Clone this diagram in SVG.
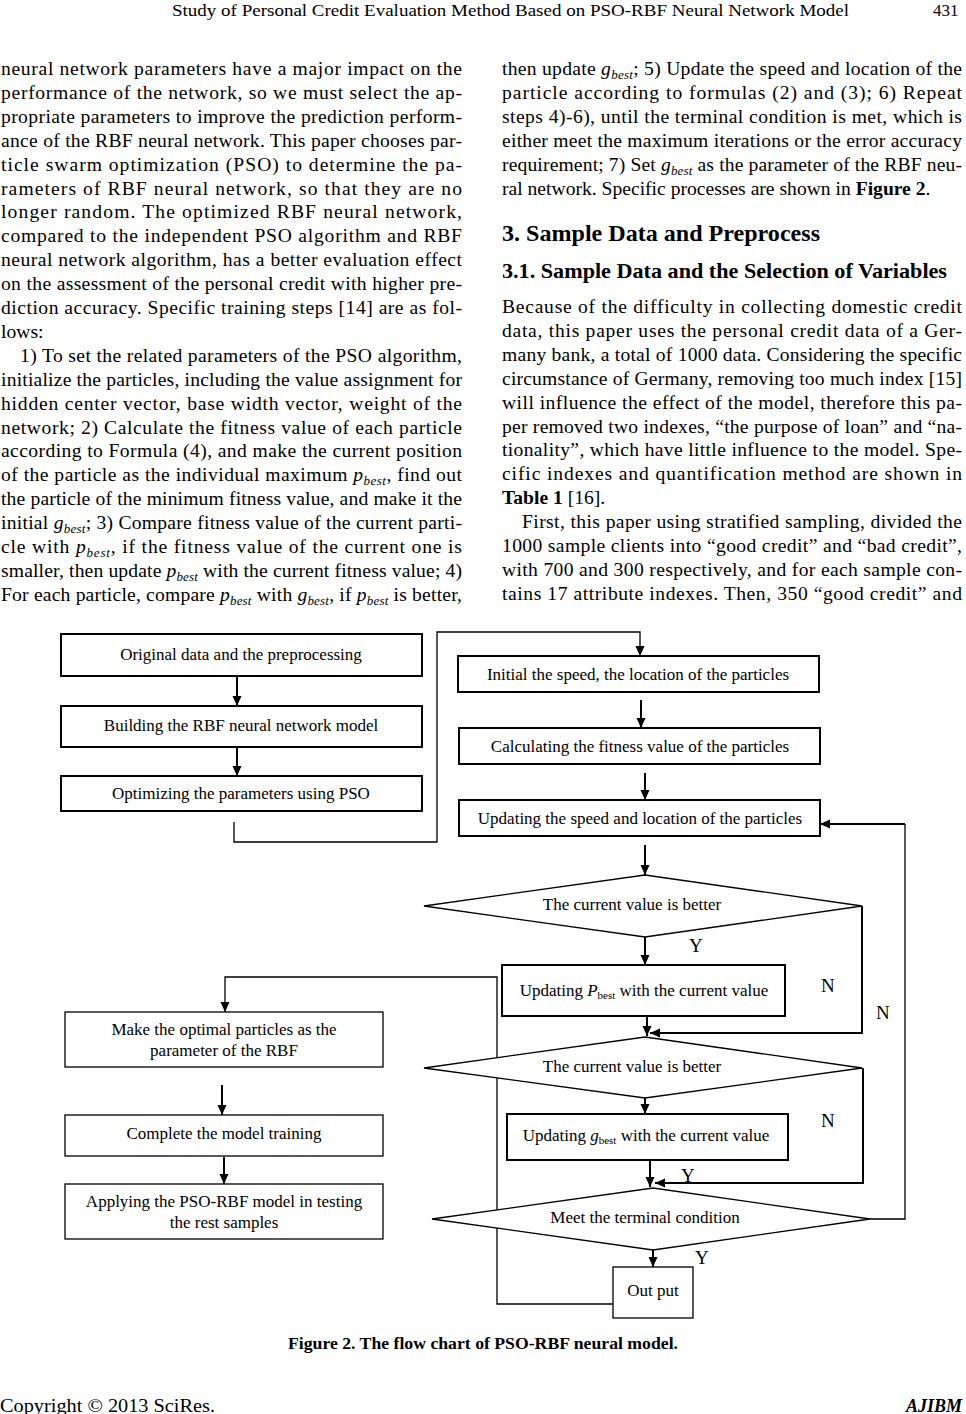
<svg xmlns="http://www.w3.org/2000/svg" width="966" height="1414" viewBox="0 0 966 1414">
<defs>
<style>
.t{font-family:"Liberation Serif","Times New Roman",serif;fill:#000}
.b{font-size:19.6px}
.hd{font-size:17px}
.f{font-size:17px;text-anchor:middle}
.lb{font-size:19px}
.i{font-style:italic}
.sub{font-style:italic;font-size:13px}
.fsub{font-size:11px}
.bold{font-weight:bold}
.box{fill:#fff;stroke:#000;stroke-width:2}
.box2{fill:#fff;stroke:#000;stroke-width:1.3}
.con{fill:none;stroke:#000;stroke-width:2}
.thin{fill:none;stroke:#000;stroke-width:1.3}
</style>
<marker id="ah" markerUnits="userSpaceOnUse" markerWidth="10" markerHeight="10" refX="10" refY="4.5" orient="auto">
<path d="M0,0 L10,4.5 L0,9 z" fill="#000"/>
</marker>
</defs>
<rect width="966" height="1414" fill="#fff"/>

<!-- page header -->
<g id="header" class="t">
<text class="hd" x="172" y="16" textLength="677" lengthAdjust="spacingAndGlyphs">Study of Personal Credit Evaluation Method Based on PSO-RBF Neural Network Model</text>
<text class="hd" x="933" y="16">431</text>
</g>

<!-- left column body text -->
<g id="left-column" class="t b">
<text x="1" y="75" textLength="461" lengthAdjust="spacing">neural network parameters have a major impact on the</text>
<text x="1" y="98.9" textLength="461" lengthAdjust="spacing">performance of the network, so we must select the ap-</text>
<text x="1" y="122.8" textLength="461" lengthAdjust="spacing">propriate parameters to improve the prediction perform-</text>
<text x="1" y="146.7" textLength="461" lengthAdjust="spacing">ance of the RBF neural network. This paper chooses par-</text>
<text x="1" y="170.6" textLength="461" lengthAdjust="spacing">ticle swarm optimization (PSO) to determine the pa-</text>
<text x="1" y="194.5" textLength="461" lengthAdjust="spacing">rameters of RBF neural network, so that they are no</text>
<text x="1" y="218.4" textLength="461" lengthAdjust="spacing">longer random. The optimized RBF neural network,</text>
<text x="1" y="242.3" textLength="461" lengthAdjust="spacing">compared to the independent PSO algorithm and RBF</text>
<text x="1" y="266.2" textLength="461" lengthAdjust="spacing">neural network algorithm, has a better evaluation effect</text>
<text x="1" y="290.1" textLength="461" lengthAdjust="spacing">on the assessment of the personal credit with higher pre-</text>
<text x="1" y="314" textLength="461" lengthAdjust="spacing">diction accuracy. Specific training steps [14] are as fol-</text>
<text x="1" y="337.9">lows:</text>
<text x="20" y="361.8" textLength="442" lengthAdjust="spacing">1) To set the related parameters of the PSO algorithm,</text>
<text x="1" y="385.7" textLength="461" lengthAdjust="spacing">initialize the particles, including the value assignment for</text>
<text x="1" y="409.6" textLength="461" lengthAdjust="spacing">hidden center vector, base width vector, weight of the</text>
<text x="1" y="433.5" textLength="461" lengthAdjust="spacing">network; 2) Calculate the fitness value of each particle</text>
<text x="1" y="457.4" textLength="461" lengthAdjust="spacing">according to Formula (4), and make the current position</text>
<text x="1" y="481.3" textLength="461" lengthAdjust="spacing">of the particle as the individual maximum <tspan class="i">p</tspan><tspan class="sub" dy="4">best</tspan><tspan dy="-4">, find out</tspan></text>
<text x="1" y="505.2" textLength="461" lengthAdjust="spacing">the particle of the minimum fitness value, and make it the</text>
<text x="1" y="529.1" textLength="461" lengthAdjust="spacing">initial <tspan class="i">g</tspan><tspan class="sub" dy="4">best</tspan><tspan dy="-4">; 3) Compare fitness value of the current parti-</tspan></text>
<text x="1" y="553" textLength="461" lengthAdjust="spacing">cle with <tspan class="i">p</tspan><tspan class="sub" dy="4">best</tspan><tspan dy="-4">, if the fitness value of the current one is</tspan></text>
<text x="1" y="576.9" textLength="461" lengthAdjust="spacing">smaller, then update <tspan class="i">p</tspan><tspan class="sub" dy="4">best</tspan><tspan dy="-4"> with the current fitness value; 4)</tspan></text>
<text x="1" y="600.8" textLength="461" lengthAdjust="spacing">For each particle, compare <tspan class="i">p</tspan><tspan class="sub" dy="4">best</tspan><tspan dy="-4"> with </tspan><tspan class="i">g</tspan><tspan class="sub" dy="4">best</tspan><tspan dy="-4">, if </tspan><tspan class="i">p</tspan><tspan class="sub" dy="4">best</tspan><tspan dy="-4"> is better,</tspan></text>
</g>

<!-- right column body text -->
<g id="right-column" class="t b">
<text x="502" y="75" textLength="460" lengthAdjust="spacing">then update <tspan class="i">g</tspan><tspan class="sub" dy="4">best</tspan><tspan dy="-4">; 5) Update the speed and location of the</tspan></text>
<text x="502" y="98.9" textLength="460" lengthAdjust="spacing">particle according to formulas (2) and (3); 6) Repeat</text>
<text x="502" y="122.8" textLength="460" lengthAdjust="spacing">steps 4)-6), until the terminal condition is met, which is</text>
<text x="502" y="146.7" textLength="460" lengthAdjust="spacing">either meet the maximum iterations or the error accuracy</text>
<text x="502" y="170.6" textLength="460" lengthAdjust="spacing">requirement; 7) Set <tspan class="i">g</tspan><tspan class="sub" dy="4">best</tspan><tspan dy="-4"> as the parameter of the RBF neu-</tspan></text>
<text x="502" y="194.5">ral network. Specific processes are shown in <tspan class="bold">Figure 2</tspan>.</text>
<text x="502" y="241" class="bold" style="font-size:24px" textLength="318" lengthAdjust="spacingAndGlyphs">3. Sample Data and Preprocess</text>
<text x="502" y="278" class="bold" style="font-size:22px" textLength="445" lengthAdjust="spacingAndGlyphs">3.1. Sample Data and the Selection of Variables</text>
<text x="502" y="313" textLength="460" lengthAdjust="spacing">Because of the difficulty in collecting domestic credit</text>
<text x="502" y="336.9" textLength="460" lengthAdjust="spacing">data, this paper uses the personal credit data of a Ger-</text>
<text x="502" y="360.8" textLength="460" lengthAdjust="spacing">many bank, a total of 1000 data. Considering the specific</text>
<text x="502" y="384.7" textLength="460" lengthAdjust="spacing">circumstance of Germany, removing too much index [15]</text>
<text x="502" y="408.6" textLength="460" lengthAdjust="spacing">will influence the effect of the model, therefore this pa-</text>
<text x="502" y="432.5" textLength="460" lengthAdjust="spacing">per removed two indexes, “the purpose of loan” and “na-</text>
<text x="502" y="456.4" textLength="460" lengthAdjust="spacing">tionality”, which have little influence to the model. Spe-</text>
<text x="502" y="480.3" textLength="460" lengthAdjust="spacing">cific indexes and quantification method are shown in</text>
<text x="502" y="504.2"><tspan class="bold">Table 1</tspan> [16].</text>
<text x="522" y="528.1" textLength="440" lengthAdjust="spacing">First, this paper using stratified sampling, divided the</text>
<text x="502" y="552" textLength="460" lengthAdjust="spacing">1000 sample clients into “good credit” and “bad credit”,</text>
<text x="502" y="575.9" textLength="460" lengthAdjust="spacing">with 700 and 300 respectively, and for each sample con-</text>
<text x="502" y="599.8" textLength="460" lengthAdjust="spacing">tains 17 attribute indexes. Then, 350 “good credit” and</text>
</g>

<!-- flowchart connectors -->
<g id="connectors">
<line class="con" x1="237" y1="676" x2="237" y2="706" marker-end="url(#ah)"/>
<line class="con" x1="237" y1="747" x2="237" y2="776" marker-end="url(#ah)"/>
<polyline class="thin" points="234,822 234,842 437,842 437,632 640,632 640,656" marker-end="url(#ah)"/>
<line class="con" x1="641" y1="700" x2="641" y2="728" marker-end="url(#ah)"/>
<line class="con" x1="645" y1="773" x2="645" y2="800" marker-end="url(#ah)"/>
<line class="con" x1="645" y1="845" x2="645" y2="875" marker-end="url(#ah)"/>
<line class="con" x1="645" y1="937" x2="645" y2="965" marker-end="url(#ah)"/>
<line class="con" x1="647" y1="1010" x2="647" y2="1036" marker-end="url(#ah)"/>
<polyline class="con" points="862,906 862,1033 650,1033" marker-end="url(#ah)"/>
<line class="con" x1="645" y1="1098" x2="645" y2="1114" marker-end="url(#ah)"/>
<line class="con" x1="650" y1="1158" x2="650" y2="1187" marker-end="url(#ah)"/>
<polyline class="con" points="863,1068 863,1183 655,1183" marker-end="url(#ah)"/>
<polyline class="thin" points="870,1219 905,1219 905,824" />
<line class="con" x1="905" y1="824" x2="820" y2="824" marker-end="url(#ah)"/>
<line class="con" x1="653" y1="1250" x2="653" y2="1267" marker-end="url(#ah)"/>
<polyline class="thin" points="613,1304 497,1304 497,977 225,977 225,1012" marker-end="url(#ah)"/>
<line class="con" x1="222" y1="1085" x2="222" y2="1115" marker-end="url(#ah)"/>
<line class="con" x1="224" y1="1157" x2="224" y2="1184" marker-end="url(#ah)"/>
</g>

<!-- flowchart nodes -->
<g id="n-original" class="t">
<rect class="box" x="61" y="634" width="361" height="42"/>
<text class="f" x="241" y="660">Original data and the preprocessing</text>
</g>
<g id="n-building" class="t">
<rect class="box" x="61" y="706" width="361" height="41"/>
<text class="f" x="241" y="731">Building the RBF neural network model</text>
</g>
<g id="n-optimizing" class="t">
<rect class="box" x="61" y="776" width="361" height="35"/>
<text class="f" x="241" y="799">Optimizing the parameters using PSO</text>
</g>
<g id="n-initial" class="t">
<rect class="box" x="458" y="656" width="361" height="36"/>
<text class="f" x="638" y="680">Initial the speed, the location of the particles</text>
</g>
<g id="n-calc" class="t">
<rect class="box" x="459" y="728" width="361" height="36"/>
<text class="f" x="640" y="752">Calculating the fitness value of the particles</text>
</g>
<g id="n-update" class="t">
<rect class="box" x="459" y="800" width="361" height="36"/>
<text class="f" x="640" y="824">Updating the speed and location of the particles</text>
</g>
<g id="n-dec1" class="t">
<polygon class="box2" points="424,906 645,875 862,906 645,937"/>
<text class="f" x="632" y="910">The current value is better</text>
</g>
<g id="n-pbest" class="t">
<rect class="box" x="502" y="965" width="283" height="51"/>
<text class="f" x="644" y="996">Updating <tspan class="i">P</tspan><tspan class="fsub" dy="3">best</tspan><tspan dy="-3"> with the current value</tspan></text>
</g>
<g id="n-dec2" class="t">
<polygon class="box2" points="424,1068 645,1037 862,1068 645,1098"/>
<text class="f" x="632" y="1072">The current value is better</text>
</g>
<g id="n-gbest" class="t">
<rect class="box" x="507" y="1114" width="281" height="46"/>
<text class="f" x="646" y="1141">Updating <tspan class="i">g</tspan><tspan class="fsub" dy="3">best</tspan><tspan dy="-3"> with the current value</tspan></text>
</g>
<g id="n-dec3" class="t">
<polygon class="box2" points="432,1219 653,1188 870,1219 653,1250"/>
<text class="f" x="645" y="1223">Meet the terminal condition</text>
</g>
<g id="n-output" class="t">
<rect class="box2" x="613" y="1267" width="80" height="51"/>
<text class="f" x="653" y="1296">Out put</text>
</g>
<g id="n-make" class="t">
<rect class="box2" x="65" y="1012" width="318" height="55"/>
<text class="f" x="224" y="1035">Make the optimal particles as the</text>
<text class="f" x="224" y="1056">parameter of the RBF</text>
</g>
<g id="n-complete" class="t">
<rect class="box2" x="65" y="1115" width="318" height="41"/>
<text class="f" x="224" y="1139">Complete the model training</text>
</g>
<g id="n-apply" class="t">
<rect class="box2" x="65" y="1184" width="318" height="55"/>
<text class="f" x="224" y="1207">Applying the PSO-RBF model in testing</text>
<text class="f" x="224" y="1228">the rest samples</text>
</g>

<!-- connector labels -->
<g id="labels" class="t lb">
<text x="689" y="952">Y</text>
<text x="821" y="992">N</text>
<text x="876" y="1019">N</text>
<text x="821" y="1127">N</text>
<text x="681" y="1182">Y</text>
<text x="695" y="1264">Y</text>
</g>

<!-- caption and footer -->
<g id="footer" class="t">
<text x="288" y="1349" class="bold" style="font-size:17.5px" textLength="390" lengthAdjust="spacingAndGlyphs">Figure 2. The flow chart of PSO-RBF neural model.</text>
<text x="0" y="1412" style="font-size:18px" textLength="215" lengthAdjust="spacingAndGlyphs">Copyright © 2013 SciRes.</text>
<text x="962" y="1412" class="bold i" style="font-size:18px;text-anchor:end">AJIBM</text>
</g>
</svg>
